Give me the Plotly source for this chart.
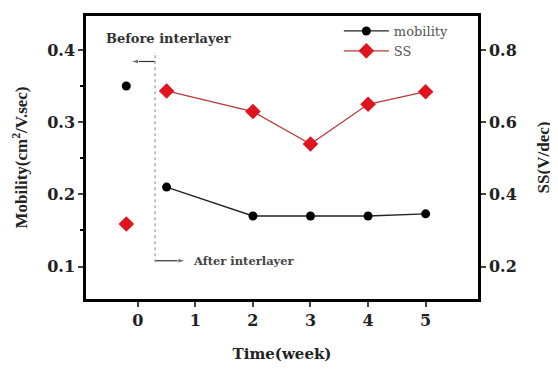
import plotly.graph_objects as go

time_mob = [-0.2, 0.5, 2, 3, 4, 5]
mobility = [0.35, 0.21, 0.17, 0.17, 0.17, 0.173]
time_ss = [-0.2, 0.5, 2, 3, 4, 5]
ss = [0.318, 0.687, 0.63, 0.54, 0.65, 0.685]
x_ticks = [0, 1, 2, 3, 4, 5]
y_left_ticks = [0.1, 0.2, 0.3, 0.4]
y_right_ticks = [0.2, 0.4, 0.6, 0.8]

FONT_V = "Liberation Serif"   # vertical titles
FONT_H = "DejaVu Serif"       # horizontal texts (reference is horizontally stretched)
TXT = "#222222"

fig = go.Figure()
# before-interlayer points (no line)
fig.add_trace(go.Scatter(x=time_mob[:1], y=mobility[:1], mode="markers",
                         marker=dict(color="black", size=9, symbol="circle"),
                         showlegend=False))
fig.add_trace(go.Scatter(x=time_ss[:1], y=ss[:1], mode="markers", yaxis="y2",
                         marker=dict(color="#e0141e", size=12, symbol="diamond"),
                         showlegend=False))
# after-interlayer series
fig.add_trace(go.Scatter(x=time_mob[1:], y=mobility[1:], mode="lines+markers", name="mobility",
                         line=dict(color="#222222", width=1.3),
                         marker=dict(color="black", size=9, symbol="circle")))
fig.add_trace(go.Scatter(x=time_ss[1:], y=ss[1:], mode="lines+markers", name="SS", yaxis="y2",
                         line=dict(color="#b83a3a", width=1.3),
                         marker=dict(color="#e0141e", size=12, symbol="diamond")))

# arrows drawn as traces with arrow-head markers
for xs, ys in (([0.3, -0.12], [0.384, 0.384]), ([0.3, 0.83], [0.108, 0.108])):
    fig.add_trace(go.Scatter(x=xs, y=ys, mode="lines+markers", showlegend=False, hoverinfo="skip",
                             line=dict(color="#333333", width=1.2),
                             marker=dict(symbol="arrow", size=[0, 8], angleref="previous",
                                         color="#333333")))

# dotted divider
fig.add_shape(type="line", x0=0.3, x1=0.3, y0=0.106, y1=0.397, xref="x", yref="y",
              line=dict(color="#999999", width=1.2, dash="dot"))

fig.add_annotation(x=0.53, y=0.416, xref="x", yref="y", text="<b>Before interlayer</b>", showarrow=False,
                   font=dict(family=FONT_H, size=13, color="#333333"))
fig.add_annotation(x=0.92, y=0.108, xref="x", yref="y", xanchor="left", text="<b>After interlayer</b>",
                   showarrow=False, font=dict(family=FONT_H, size=11.5, color="#444444"))

tickfont = dict(family=FONT_H, size=16, color=TXT)

fig.update_layout(
    width=550, height=362,
    margin=dict(l=78, r=80, t=8, b=71, autoexpand=False),
    paper_bgcolor="white", plot_bgcolor="white",
    font=dict(family=FONT_H, color="black"),
    showlegend=True,
    legend=dict(x=0.645, y=1.0, xanchor="left", yanchor="top", bgcolor="rgba(0,0,0,0)",
                font=dict(family=FONT_H, size=13, color="#555555"), tracegroupgap=0,
                itemwidth=45),
    xaxis=dict(range=[-0.9, 5.91], tickvals=x_ticks, ticktext=[f"<b>{v}</b>" for v in x_ticks],
               ticks="outside", ticklen=5, tickwidth=2, automargin=False,
               showline=True, linewidth=2.5, linecolor="black", mirror=True, showgrid=False, zeroline=False,
               tickfont=tickfont,
               title=dict(text="<b>Time(week)</b>", font=dict(family=FONT_H, size=15, color=TXT), standoff=20)),
    yaxis=dict(range=[0.055, 0.447], tickvals=y_left_ticks, ticktext=[f"<b>{v:.1f}</b>" for v in y_left_ticks],
               ticks="outside", ticklen=5, tickwidth=2, automargin=False,
               minor=dict(tickvals=[0.15, 0.25, 0.35], ticks="outside", ticklen=3, tickwidth=1.5, tickcolor="black"),
               showline=True, linewidth=2.5, linecolor="black", mirror=True, showgrid=False, zeroline=False,
               tickfont=tickfont,
               title=dict(text="<b>Mobility(cm<sup>2</sup>/V.sec)</b>", font=dict(family=FONT_V, size=17, color=TXT), standoff=16)),
    yaxis2=dict(range=[0.11, 0.895], tickvals=y_right_ticks, ticktext=[f"<b>{v:.1f}</b>" for v in y_right_ticks],
                overlaying="y", side="right", ticks="outside", ticklen=5, tickwidth=2, automargin=False,
                showline=True, linewidth=2.5, linecolor="black", showgrid=False, zeroline=False,
                tickfont=tickfont,
                title=dict(text="<b>SS(V/dec)</b>", font=dict(family=FONT_V, size=17, color=TXT), standoff=22)),
)

fig.write_html("out.html")
